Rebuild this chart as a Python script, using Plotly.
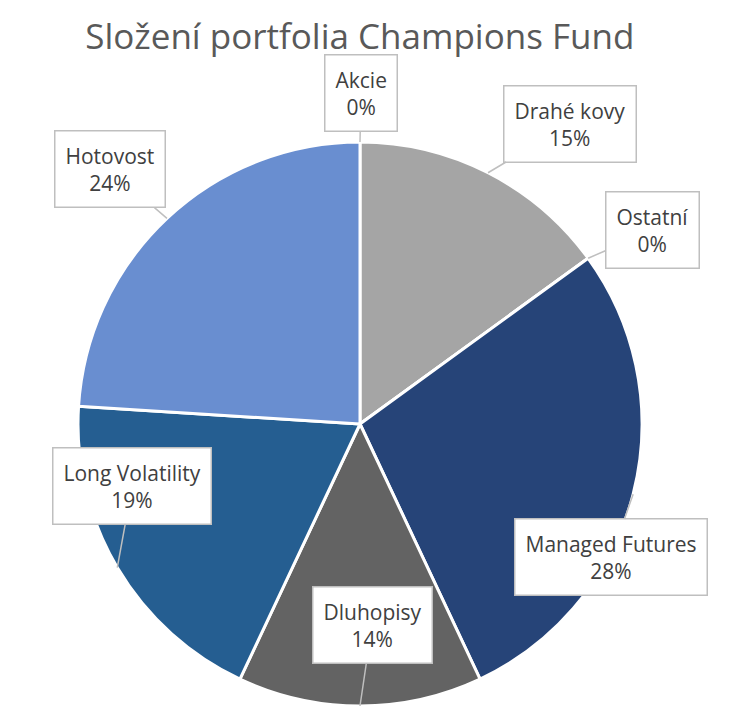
import math
import plotly.graph_objects as go

labels = ['Akcie', 'Drahé kovy', 'Ostatní', 'Managed Futures', 'Dluhopisy', 'Long Volatility', 'Hotovost']
values = [0, 15, 0, 28, 14, 19, 24]
colors = ['#4472C4', '#A5A5A5', '#FFC000', '#264478', '#636363', '#255E91', '#698ED0']

# pixel offsets of each callout box from the point it marks on the rim
offsets = [(1, -49), (82, -49), (64, -28), (-22, 63), (12, -81), (15, -82), (-57, -49)]

W, H = 755, 727
M = dict(l=0, r=51, t=134, b=29)  # page body adds 8px on top/left
pw, ph = W - M['l'] - M['r'], H - M['t'] - M['b']
R = min(pw, ph) / 2

fig = go.Figure(go.Pie(
  labels=labels, values=values, sort=False, direction='clockwise', rotation=0,
  marker=dict(colors=colors, line=dict(color='white', width=3)),
  textinfo='none', hoverinfo='skip', showlegend=False,
))

total = sum(values)
cum = 0
for lab, v, (ax, ay) in zip(labels, values, offsets):
  theta = 2 * math.pi * (cum + v / 2) / total
  cum += v
  x = 0.5 + R * math.sin(theta) / pw
  y = 0.5 + R * math.cos(theta) / ph
  fig.add_annotation(
    x=x, y=y, xref='paper', yref='paper', ax=ax, ay=ay,
    text=f'{lab}<br>{round(100 * v / total)}%',
    showarrow=True, arrowhead=0, arrowwidth=1.5, arrowcolor='#BFBFBF', standoff=0,
    bgcolor='white', bordercolor='#BFBFBF', borderwidth=1.5, borderpad=10,
    font=dict(family='Open Sans', size=21, color='#404040'),
  )

fig.update_layout(
  width=W, height=H, margin=M,
  title=dict(text='Složení portfolia Champions Fund', x=0.466, xanchor='center', y=0.96, yanchor='middle',
             font=dict(family='Open Sans', size=35, color='#595959')),
  paper_bgcolor='white',
)
fig.write_html('out.html')
